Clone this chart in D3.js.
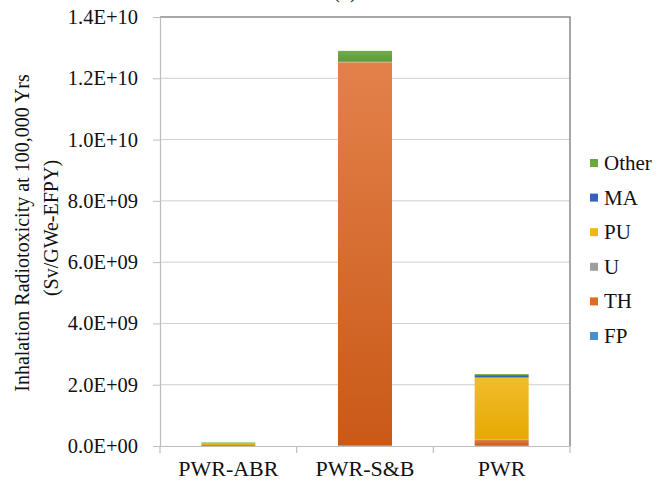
<!DOCTYPE html>
<html>
<head>
<meta charset="utf-8">
<script src="https://cdn.jsdelivr.net/npm/d3@7"></script>
<style>
  html, body { margin: 0; padding: 0; background: #fff; }
  svg { display: block; }
</style>
</head>
<body>
<svg id="chart" width="666" height="481"></svg>
<script>
// Inhalation radiotoxicity at 100,000 years, by contributor (Sv/GWe-EFPY)
const categories = ["PWR-ABR", "PWR-S&B", "PWR"];
const seriesNames = ["FP", "TH", "U", "PU", "MA", "Other"];
const FP    = [0,       0.02e9,  0.01e9];
const TH    = [0.03e9,  12.5e9,  0.20e9];
const U     = [0,       0.005e9, 0.005e9];
const PU    = [0.06e9,  0.02e9,  2.02e9];
const MA    = [0.005e9, 0.02e9,  0.08e9];
const Other = [0.02e9,  0.33e9,  0.03e9];
const yTicks = [0, 2e9, 4e9, 6e9, 8e9, 1.0e10, 1.2e10, 1.4e10];
const yTickLabels = ["0.0E+00", "2.0E+09", "4.0E+09", "6.0E+09", "8.0E+09", "1.0E+10", "1.2E+10", "1.4E+10"];
const legendOrder = ["Other", "MA", "PU", "U", "TH", "FP"];

const seriesValues = { FP, TH, U, PU, MA, Other };
const colors = {
  FP:    ["#5a9ad6", "#3f82c4"],
  TH:    ["#e3814b", "#c95917"],
  U:     ["#ababab", "#939393"],
  PU:    ["#f1bd2e", "#e6a900"],
  MA:    ["#4470c2", "#2f5aa8"],
  Other: ["#74ad4c", "#5c9a38"]
};
const swatch = { FP: "#4a8fd0", TH: "#e06a28", U: "#9e9e9e", PU: "#f0b41c", MA: "#3562b8", Other: "#6aa745" };
const serif = "'Liberation Serif', 'Times New Roman', serif";

const table = categories.map((c, i) => {
  const row = { category: c };
  seriesNames.forEach(s => row[s] = seriesValues[s][i]);
  return row;
});

const svg = d3.select("#chart");
const plot = { left: 160, right: 570, top: 17, bottom: 446 };

const x = d3.scaleBand().domain(categories)
  .range([plot.left, plot.right]).paddingInner(0.605).paddingOuter(0.3025);
const y = d3.scaleLinear().domain([0, 1.4e10]).range([plot.bottom, plot.top]);

// vertical gradient fill for each series
const defs = svg.append("defs");
seriesNames.forEach(s => {
  const g = defs.append("linearGradient").attr("id", "grad-" + s)
    .attr("x1", 0).attr("y1", 0).attr("x2", 0).attr("y2", 1);
  g.append("stop").attr("offset", "0%").attr("stop-color", colors[s][0]);
  g.append("stop").attr("offset", "100%").attr("stop-color", colors[s][1]);
});

// panel title, mostly above the top edge
svg.append("text").attr("x", 345).attr("y", -2).attr("text-anchor", "middle")
  .attr("font-family", serif).attr("font-size", 20).attr("fill", "#222").text("(b)");

// gridlines
svg.append("g").selectAll("line").data(yTicks.filter(v => v > 0 && v < 1.4e10)).join("line")
  .attr("x1", plot.left).attr("x2", plot.right)
  .attr("y1", d => y(d)).attr("y2", d => y(d))
  .attr("stroke", "#cfcfcf").attr("stroke-width", 1);

// plot frame (top and right)
svg.append("path")
  .attr("d", `M${plot.left},${y(1.4e10)}H${plot.right}V${plot.bottom}`)
  .attr("fill", "none").attr("stroke", "#8a8a8a").attr("stroke-width", 1.5);

// stacked bars
const stack = d3.stack().keys(seriesNames)(table);
svg.append("g").selectAll("g").data(stack).join("g")
  .attr("fill", d => `url(#grad-${d.key})`)
  .selectAll("rect").data(d => d).join("rect")
  .attr("x", d => x(d.data.category))
  .attr("width", x.bandwidth())
  .attr("y", d => y(d[1]))
  .attr("height", d => Math.max(0, y(d[0]) - y(d[1])));

// y axis
const yAxis = svg.append("g").attr("transform", `translate(${plot.left},0)`)
  .call(d3.axisLeft(y).tickValues(yTicks).tickSize(7).tickPadding(15)
    .tickFormat((d, i) => yTickLabels[i]));
yAxis.attr("font-family", serif);
yAxis.select(".domain").attr("stroke", "#bdbdbd").attr("stroke-width", 1.2);
yAxis.selectAll(".tick line").attr("stroke", "#bdbdbd");
yAxis.selectAll(".tick text").attr("font-size", 20.5).attr("fill", "#111");

// x axis
const xAxis = svg.append("g").attr("transform", `translate(0,${plot.bottom})`)
  .call(d3.axisBottom(x).tickSize(0).tickPadding(0));
xAxis.attr("font-family", serif);
xAxis.select(".domain").attr("stroke", "#bdbdbd").attr("stroke-width", 1.2);
xAxis.selectAll(".tick text").attr("font-size", 22).attr("fill", "#111")
  .attr("dy", 0).attr("y", 30);
// category separators
const edges = categories.map(c => x(c) - x.step() * x.paddingInner() / 2);
edges.push(plot.right);
edges[0] = plot.left;
svg.append("g").selectAll("line").data(edges).join("line")
  .attr("x1", d => d).attr("x2", d => d)
  .attr("y1", plot.bottom).attr("y2", plot.bottom + 7)
  .attr("stroke", "#bdbdbd").attr("stroke-width", 1.2);

// y axis title
const title = svg.append("g").attr("font-family", serif).attr("font-size", 20).attr("fill", "#111");
title.append("text").attr("transform", "translate(29,233) rotate(-90)")
  .attr("text-anchor", "middle").text("Inhalation Radiotoxicity at 100,000 Yrs");
title.append("text").attr("transform", "translate(58,228) rotate(-90)")
  .attr("text-anchor", "middle").text("(Sv/GWe-EFPY)");

// legend
const legend = svg.append("g").attr("font-family", serif).selectAll("g").data(legendOrder).join("g")
  .attr("transform", (d, i) => `translate(590,${163 + i * 34.6})`);
legend.append("rect").attr("x", 0).attr("y", -4).attr("width", 8).attr("height", 8)
  .attr("fill", d => swatch[d]);
legend.append("text").attr("x", 14).attr("y", 7).attr("font-size", 21)
  .attr("fill", "#111").text(d => d);
</script>
</body>
</html>
